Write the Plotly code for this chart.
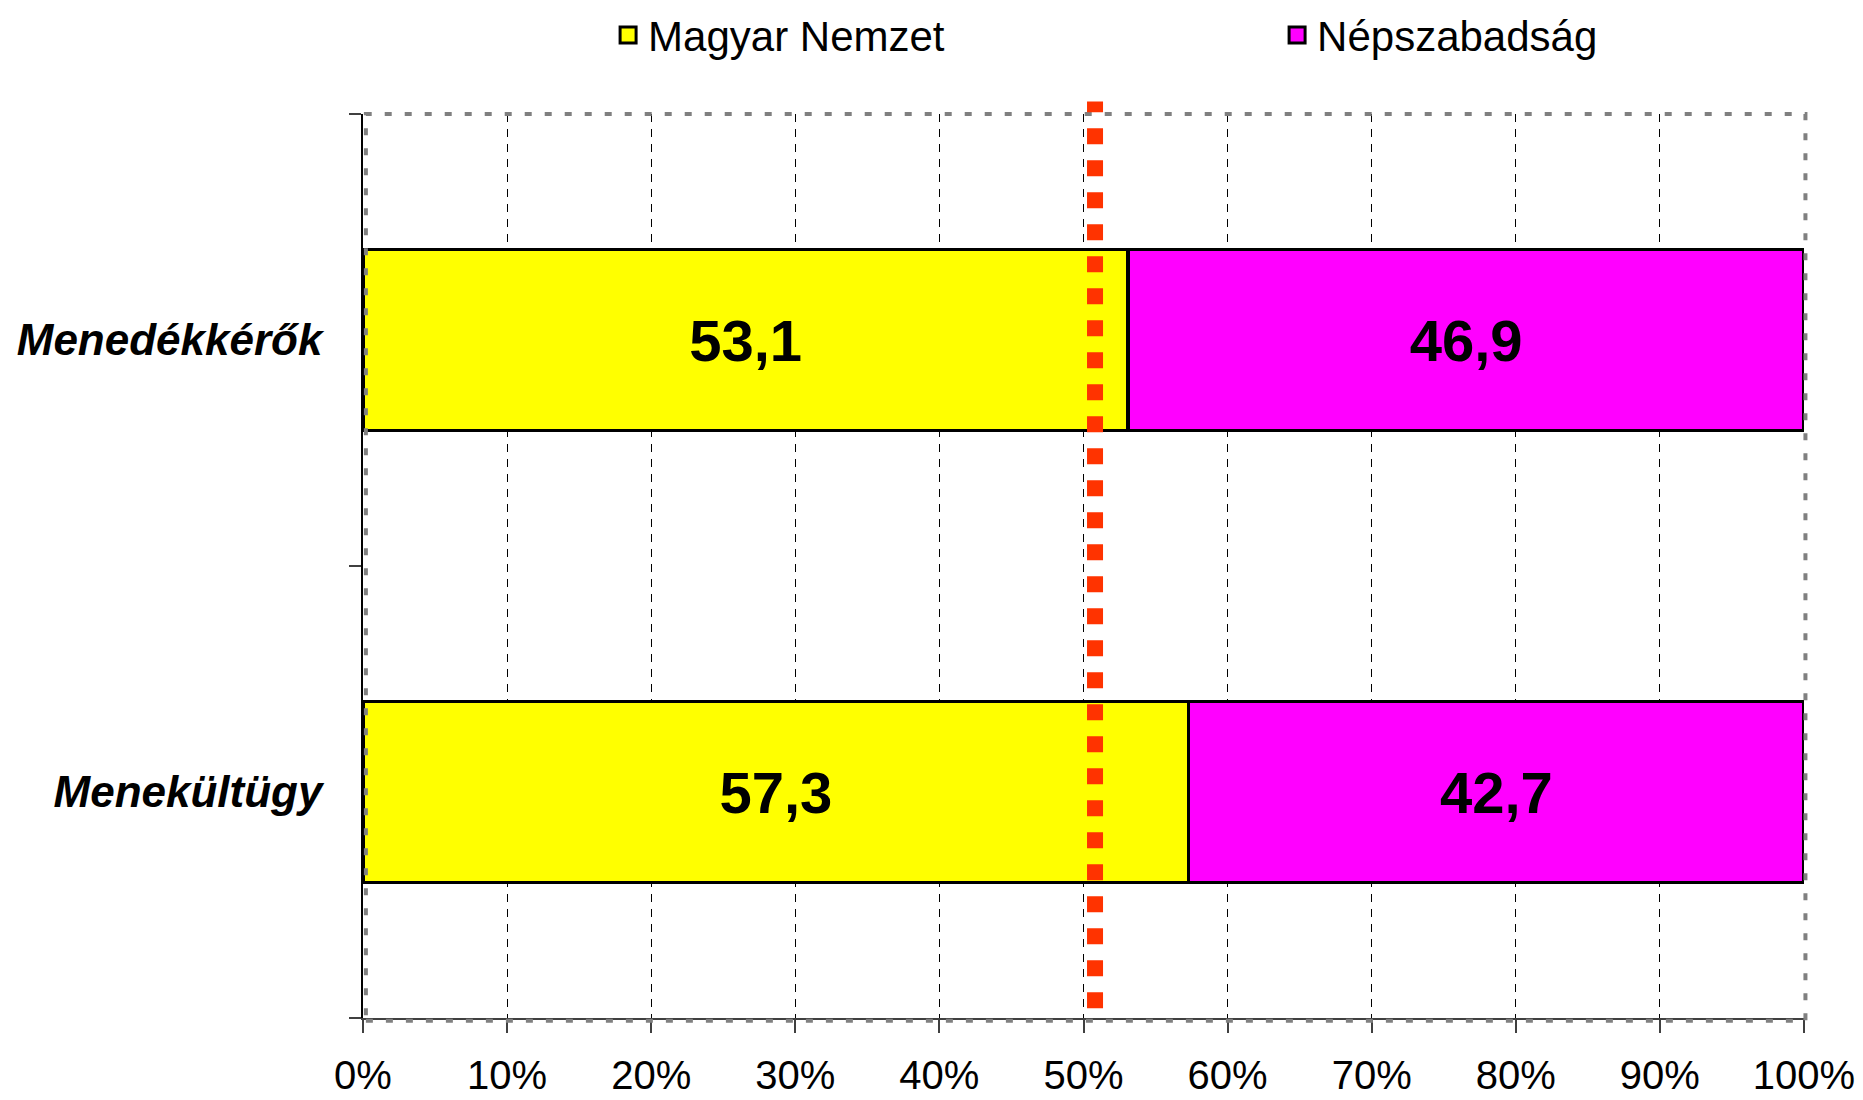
import plotly.graph_objects as go

categories = ["Menekültügy", "Menedékkérők"]
series_names = ["Magyar Nemzet", "Népszabadság"]
magyar_nemzet = [57.3, 53.1]
nepszabadsag = [42.7, 46.9]
reference_line = 50.8
x_ticks = [0, 10, 20, 30, 40, 50, 60, 70, 80, 90, 100]

colors = ["#FFFF00", "#FF00FF"]
FONT = "Liberation Sans, Arial, sans-serif"

fig = go.Figure()
for name, vals, col in zip(series_names, [magyar_nemzet, nepszabadsag], colors):
    fig.add_trace(go.Bar(
        y=categories, x=vals, name=name, orientation="h",
        marker=dict(color=col, line=dict(color="#000000", width=3.5)),
        texttemplate="%{x:.1f}", textposition="inside", insidetextanchor="middle",
        textangle=0,
        textfont=dict(family=FONT, size=58, color="#000000", weight="bold"),
        showlegend=False, legendgroup=name, hoverinfo="skip",
    ))
    fig.add_trace(go.Scatter(
        x=[None], y=[None], mode="markers", name=name, legendgroup=name,
        marker=dict(symbol="square", size=16, color=col, line=dict(color="#000000", width=3)),
        showlegend=True,
    ))

# plot-area border (grey dotted)
fig.add_shape(type="rect", xref="paper", yref="paper", x0=0.002, x1=1.001, y0=-0.003, y1=1.0,
              line=dict(color="#808080", width=4, dash="7px,13px"), layer="above")

# reference line
fig.add_shape(type="line", xref="x", yref="paper", x0=reference_line, x1=reference_line,
              y0=0.0107, y1=1.0138, line=dict(color="#FF3300", width=16, dash="16px,16px"),
              layer="above")

fig.update_layout(
    width=1855, height=1092,
    margin=dict(l=355, r=59, t=106, b=82, autoexpand=False),
    paper_bgcolor="white", plot_bgcolor="white",
    barmode="stack", bargap=0.6,
    separators=",.",
    font=dict(family=FONT, color="#000000"),
    legend=dict(orientation="h", xref="container", yref="container",
                x=0.3235, y=0.975, xanchor="left", yanchor="middle",
                entrywidth=624, entrywidthmode="pixels",
                font=dict(family=FONT, size=42, color="#000000"),
                itemclick=False, itemdoubleclick=False),
    xaxis=dict(range=[0, 100], tickvals=x_ticks, ticktext=[f"{v}%" for v in x_ticks],
               showgrid=True, gridcolor="#000000", gridwidth=1, griddash="8px,7px",
               showline=True, linecolor="#404040", linewidth=1.5,
               ticks="outside", ticklen=13, tickcolor="#404040", tickwidth=1.5,
               tickfont=dict(family=FONT, size=40, color="#000000"),
               ticklabelstandoff=8, zeroline=False, fixedrange=True, automargin=False),
    yaxis=dict(type="category", categoryorder="array", categoryarray=categories,
               showgrid=False, showline=True, linecolor="#000000", linewidth=1.5,
               ticks="outside", tickson="boundaries", ticklen=12, tickcolor="#404040",
               tickwidth=1.5,
               tickfont=dict(family=FONT, size=44, color="#000000", weight="bold", style="italic"),
               ticklabelstandoff=30, fixedrange=True, automargin=False),
)

fig.write_html("out.html")
